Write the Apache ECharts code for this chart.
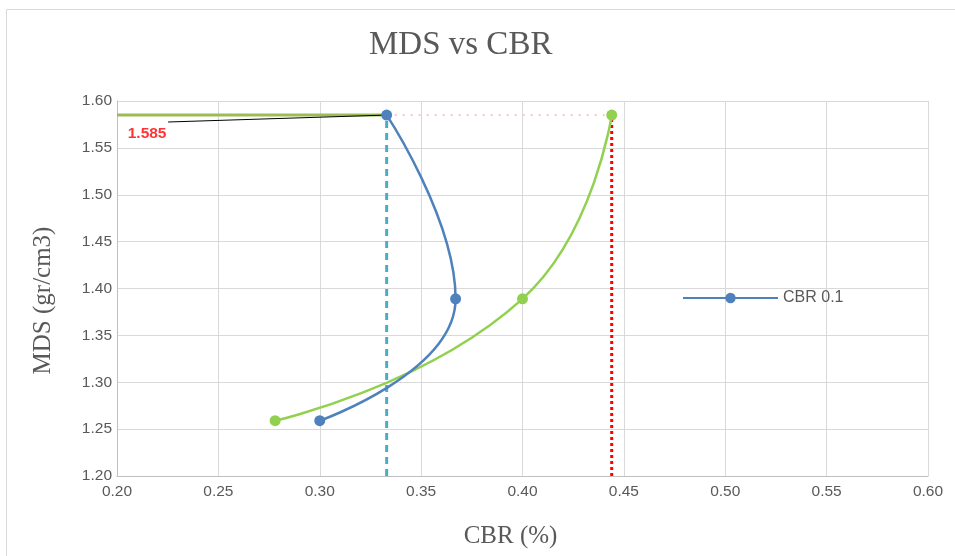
<!DOCTYPE html>
<html><head><meta charset="utf-8">
<script src="https://cdn.jsdelivr.net/npm/echarts@6/dist/echarts.min.js"></script>
<style>html,body{margin:0;padding:0;background:#fff}#c{width:955px;height:556px}</style>
</head><body><div id="c"></div>
<script>
const titleText = 'MDS vs CBR';
const xName = 'CBR (%)';
const yName = 'MDS (gr/cm3)';
const seriesName = 'CBR 0.1';
const blueCBR = [0.300, 0.367, 0.333];
const blueMDS = [1.259, 1.389, 1.585];
const greenCBR = [0.278, 0.400, 0.444];
const greenMDS = [1.259, 1.389, 1.585];
const refMDS = 1.585;
const refCBRBlue = 0.333;
const refCBRGreen = 0.444;
const xMin = 0.20, xMax = 0.60, xStep = 0.05;
const yMin = 1.20, yMax = 1.60, yStep = 0.05;
const labelPos = [0.2252, 1.5776];
const labelText = '1.585';

const chart = echarts.init(document.getElementById('c'));
const zip = (a, b) => a.map((v, i) => [v, b[i]]);
chart.setOption({
  animation: false,
  backgroundColor: '#fff',
  graphic: [{type: 'rect', shape: {x: 6.5, y: 9.5, width: 1000, height: 600}, style: {fill: 'none', stroke: '#d9d9d9', lineWidth: 1}, silent: true}],
  title: {text: titleText, left: 364, top: 24, textStyle: {fontFamily: 'Liberation Serif', fontSize: 33, fontWeight: 'normal', color: '#595959'}},
  legend: {data: [seriesName], left: 682, top: 290, padding: 0, itemWidth: 95, itemHeight: 13, itemGap: 6,
    textStyle: {fontFamily: 'Liberation Sans', fontSize: 16, color: '#595959'}},
  grid: {left: 117, right: 27, top: 101, bottom: 80},
  xAxis: {type: 'value', min: xMin, max: xMax, interval: xStep,
    name: xName, nameLocation: 'middle', nameGap: 48,
    nameTextStyle: {fontFamily: 'Liberation Serif', fontSize: 25, color: '#595959', padding: [0, 24, 0, 0]},
    axisLine: {lineStyle: {color: '#bfbfbf'}}, axisTick: {show: false},
    axisLabel: {formatter: v => v.toFixed(2), fontFamily: 'Liberation Sans', fontSize: 15.5, color: '#595959', margin: 8},
    splitLine: {lineStyle: {color: '#d9d9d9'}}},
  yAxis: {type: 'value', min: yMin, max: yMax, interval: yStep,
    name: yName, nameLocation: 'middle', nameGap: 61,
    nameTextStyle: {fontFamily: 'Liberation Serif', fontSize: 25, color: '#595959', padding: [0, 24, 0, 0]},
    axisLine: {show: true, lineStyle: {color: '#bfbfbf'}}, axisTick: {show: false},
    axisLabel: {formatter: v => v.toFixed(2), fontFamily: 'Liberation Sans', fontSize: 15.5, color: '#595959', margin: 5},
    splitLine: {lineStyle: {color: '#d9d9d9'}}},
  series: [
    {name: 'ref-h', type: 'line', data: [[xMin, refMDS], [refCBRBlue, refMDS]], symbol: 'none', lineStyle: {color: '#9bbb59', width: 3}, z: 1},
    {name: 'ref-h2', type: 'line', data: [[refCBRBlue, refMDS], [refCBRGreen, refMDS]], symbol: 'none', lineStyle: {color: '#f6c9c9', width: 2, type: [2, 6]}, z: 1},
    {name: 'ref-v1', type: 'line', data: [[refCBRBlue, yMin], [refCBRBlue, refMDS]], symbol: 'none', lineStyle: {color: '#4bacc6', width: 3, type: [7, 5]}, z: 2},
    {name: 'ref-v2', type: 'line', data: [[refCBRGreen, yMin], [refCBRGreen, refMDS]], symbol: 'none', lineStyle: {color: '#ff0000', width: 3, type: [3, 3]}, z: 2},
    {name: 'leader', type: 'line', data: [labelPos, [refCBRBlue, refMDS]], symbol: 'none', lineStyle: {color: '#000', width: 1}, z: 2},
    {name: 'lbl', type: 'scatter', data: [labelPos], symbolSize: 1, itemStyle: {color: 'transparent'},
      label: {show: true, position: 'bottom', offset: [-21, -2], formatter: labelText, color: '#ff0000', fontWeight: 'bold', fontFamily: 'Liberation Sans', fontSize: 15.5}, z: 5},
    {name: 'green', type: 'line', data: zip(greenCBR, greenMDS), smooth: 0.5, symbol: 'circle', symbolSize: 11,
      itemStyle: {color: '#92d050'}, lineStyle: {color: '#92d050', width: 2.5}, z: 3},
    {name: seriesName, type: 'line', data: zip(blueCBR, blueMDS), smooth: 0.5, symbol: 'circle', symbolSize: 11,
      itemStyle: {color: '#4f81bd'}, lineStyle: {color: '#4f81bd', width: 2.5}, z: 4}
  ]
});
</script></body></html>
